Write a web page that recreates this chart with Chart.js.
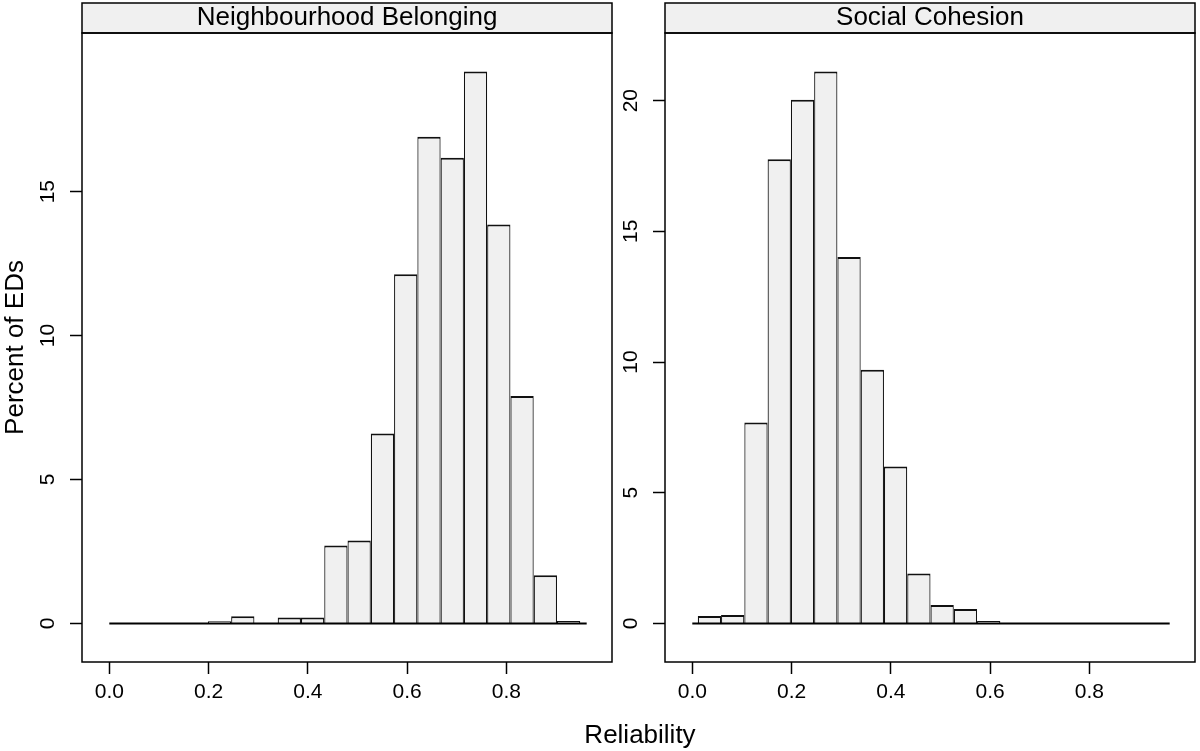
<!DOCTYPE html>
<html>
<head>
<meta charset="utf-8">
<script src="https://cdn.jsdelivr.net/npm/chart.js@4.4.0/dist/chart.umd.min.js"></script>
<style>
    html, body { margin: 0; padding: 0; background: #fff; }
    #wrap { position: relative; width: 1200px; height: 751px; }
    #wrap canvas { position: absolute; left: 0; top: 0; }
    #xlab {
        position: absolute; left: 440px; width: 400px; top: 719px;
        text-align: center; color: #000;
        font: 26px 'Liberation Sans', Arial, sans-serif;
    }
</style>
</head>
<body>
<div id="wrap">
    <canvas id="chart-left" width="1200" height="751"></canvas>
    <canvas id="chart-right" width="1200" height="751"></canvas>
    <div id="xlab">Reliability</div>
</div>
<script>
// Histogram bins (mid points, reliability)
const binMids = [0.0345, 0.0814, 0.1283, 0.1752, 0.2221, 0.2690, 0.3159, 0.3628, 0.4097, 0.4566,
                 0.5035, 0.5504, 0.5973, 0.6442, 0.6911, 0.7380, 0.7849, 0.8318, 0.8787, 0.9256];

// Percent of EDs per bin
const belongingPct = [0, 0, 0, 0, 0.07, 0.25, 0, 0.2, 0.2, 2.71,
                      2.88, 6.6, 12.13, 16.91, 16.18, 19.17, 13.86, 7.9, 1.67, 0.08];
const cohesionPct = [0.28, 0.32, 7.69, 17.76, 20.03, 21.11, 14.02, 9.70, 6.0, 1.91,
                     0.70, 0.55, 0.09, 0, 0, 0, 0, 0, 0, 0];

const panelTitles = ['Neighbourhood Belonging', 'Social Cohesion'];
const xTickValues = [0, 0.2, 0.4, 0.6, 0.8];
const belongingYTicks = [0, 5, 10, 15];
const cohesionYTicks = [0, 5, 10, 15, 20];
const baselineX = [0, 0.962];

const FONT = "'Liberation Sans', Arial, sans-serif";

// strip on top, box round the panel, rotated y labels (lattice look)
const panelFrame = {
    id: 'panelFrame',
    beforeDraw(chart) {
        const a = chart.chartArea;
        const ctx = chart.ctx;
        ctx.save();
        ctx.fillStyle = '#f0f0f0';
        ctx.fillRect(a.left, 3, a.right - a.left, a.top - 3);
        ctx.restore();
    },
    afterDraw(chart) {
        const a = chart.chartArea;
        const ctx = chart.ctx;
        ctx.save();
        ctx.strokeStyle = '#000';
        ctx.lineWidth = 1.5;
        ctx.strokeRect(a.left, 3, a.right - a.left, a.top - 3);
        ctx.strokeRect(a.left, a.top, a.right - a.left, a.bottom - a.top);

        const y = chart.scales.y;
        ctx.fillStyle = '#000';
        ctx.font = '21px ' + FONT;
        ctx.textAlign = 'center';
        ctx.textBaseline = 'middle';
        y.ticks.forEach(t => {
            ctx.save();
            ctx.translate(a.left - 34, y.getPixelForValue(t.value));
            ctx.rotate(-Math.PI / 2);
            ctx.fillText(String(t.value), 0, 0);
            ctx.restore();
        });
        ctx.restore();
    }
};

function makePanel(id, title, values, yTicks, padLeft, padRight, showYTitle) {
    const top = Math.max(...values);
    const pad = top * 0.07;

    return new Chart(document.getElementById(id), {
        type: 'bar',
        data: {
            datasets: [{
                type: 'line',
                data: baselineX.map(x => ({ x: x, y: 0 })),
                borderColor: '#000',
                borderWidth: 2,
                pointRadius: 0,
                order: 0
            }, {
                type: 'bar',
                data: binMids.map((x, i) => ({ x: x, y: values[i] })),
                backgroundColor: '#f0f0f0',
                borderColor: '#111',
                borderWidth: { top: 2, left: 1.2, right: 1.2, bottom: 0 },
                borderSkipped: 'start',
                barPercentage: 1,
                categoryPercentage: 1,
                inflateAmount: 0,
                order: 1
            }]
        },
        options: {
            responsive: false,
            animation: false,
            layout: { padding: { left: padLeft, right: padRight, top: 3, bottom: 0 } },
            plugins: {
                legend: { display: false },
                tooltip: { enabled: false },
                title: {
                    display: true,
                    text: title,
                    fullSize: false,
                    color: '#000',
                    font: { family: FONT, size: 26, weight: 'normal', lineHeight: 30 / 26 },
                    padding: { top: 0, bottom: 0 }
                }
            },
            scales: {
                x: {
                    type: 'linear',
                    min: -0.055,
                    max: 1.013,
                    offset: false,
                    afterBuildTicks: s => { s.ticks = xTickValues.map(v => ({ value: v })); },
                    afterFit: s => { s.height = 89; },
                    grid: { offset: false, drawOnChartArea: false, drawTicks: true, tickLength: 12, tickColor: '#000', tickWidth: 1.5 },
                    border: { display: false },
                    ticks: {
                        color: '#000',
                        padding: 6,
                        font: { family: FONT, size: 21 },
                        callback: v => Number(v).toFixed(1)
                    }
                },
                y: {
                    type: 'linear',
                    min: -pad,
                    max: top + pad,
                    afterBuildTicks: s => { s.ticks = yTicks.map(v => ({ value: v })); },
                    afterFit: s => { s.width = 82; },
                    grid: { offset: false, drawOnChartArea: false, drawTicks: true, tickLength: 12, tickColor: '#000', tickWidth: 1.5 },
                    border: { display: false },
                    ticks: { display: false },
                    title: {
                        display: showYTitle,
                        text: 'Percent of EDs',
                        color: '#000',
                        padding: { top: 0, bottom: 0 },
                        font: { family: FONT, size: 26 }
                    }
                }
            }
        },
        plugins: [panelFrame]
    });
}

makePanel('chart-left', panelTitles[0], belongingPct, belongingYTicks, 0, 588, true);
makePanel('chart-right', panelTitles[1], cohesionPct, cohesionYTicks, 583, 5, false);
</script>
</body>
</html>
